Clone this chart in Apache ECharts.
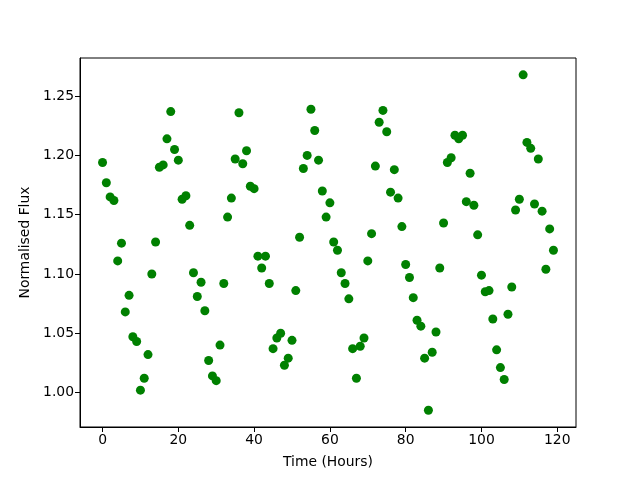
<!DOCTYPE html>
<html>
<head>
<meta charset="utf-8">
<script src="https://cdn.jsdelivr.net/npm/echarts@6/dist/echarts.min.js"></script>
<style>html,body{margin:0;padding:0;background:#fff}#c{width:640px;height:480px}</style>
</head>
<body>
<div id="c"></div>
<script>
const hours = Array.from({length: 120}, (_, i) => i);
const flux = [
1.194,1.177,1.165,1.162,1.111,1.126,1.068,1.082,1.047,1.043,
1.002,1.012,1.032,1.100,1.127,1.190,1.192,1.214,1.237,1.205,
1.196,1.163,1.166,1.141,1.101,1.081,1.093,1.069,1.027,1.014,
1.010,1.040,1.092,1.148,1.164,1.197,1.236,1.193,1.204,1.174,
1.172,1.115,1.105,1.115,1.092,1.037,1.046,1.050,1.023,1.029,
1.044,1.086,1.131,1.189,1.200,1.239,1.221,1.196,1.170,1.148,
1.160,1.127,1.120,1.101,1.092,1.079,1.037,1.012,1.039,1.046,
1.111,1.134,1.191,1.228,1.238,1.220,1.169,1.188,1.164,1.140,
1.108,1.097,1.080,1.061,1.056,1.029,0.985,1.034,1.051,1.105,
1.143,1.194,1.198,1.217,1.214,1.217,1.161,1.185,1.158,1.133,
1.099,1.085,1.086,1.062,1.036,1.021,1.011,1.066,1.089,1.154,
1.163,1.268,1.211,1.206,1.159,1.197,1.153,1.104,1.138,1.120
];
const xTicks = [0, 20, 40, 60, 80, 100, 120];
const yTicks = [1.00, 1.05, 1.10, 1.15, 1.20, 1.25];

const font = 'DejaVu Sans';
const fs = 13.9;
const chart = echarts.init(document.getElementById('c'));
chart.setOption({
  animation: false,
  backgroundColor: '#fff',
  grid: {left: 80, right: 64, top: 58, bottom: 53, show: true, borderColor: '#000', borderWidth: 1, backgroundColor: 'transparent'},
  xAxis: {
    type: 'value', min: -5.95, max: 124.95,
    name: 'Time (Hours)', nameLocation: 'middle', nameGap: 28,
    nameTextStyle: {fontFamily: font, fontSize: fs, color: '#000'},
    axisLine: {show: true, onZero: false, lineStyle: {color: '#000', width: 1}},
    axisTick: {show: true, inside: false, length: 5, customValues: xTicks, lineStyle: {color: '#000'}},
    axisLabel: {customValues: xTicks, fontFamily: font, fontSize: fs, color: '#000', margin: 6},
    splitLine: {show: false}
  },
  yAxis: {
    type: 'value', min: 0.9709, max: 1.2822,
    name: 'Normalised Flux', nameLocation: 'middle', nameGap: 47,
    nameTextStyle: {fontFamily: font, fontSize: fs, color: '#000'},
    axisLine: {show: true, onZero: false, lineStyle: {color: '#000', width: 1}},
    axisTick: {show: true, inside: false, length: 5, customValues: yTicks, lineStyle: {color: '#000'}},
    axisLabel: {customValues: yTicks, fontFamily: font, fontSize: fs, color: '#000', margin: 6,
      formatter: v => v.toFixed(2)},
    splitLine: {show: false}
  },
  series: [{
    type: 'scatter',
    data: hours.map((h, i) => [h, flux[i]]),
    symbolSize: 9,
    itemStyle: {color: '#008000', opacity: 1}
  }]
});
</script>
</body>
</html>
